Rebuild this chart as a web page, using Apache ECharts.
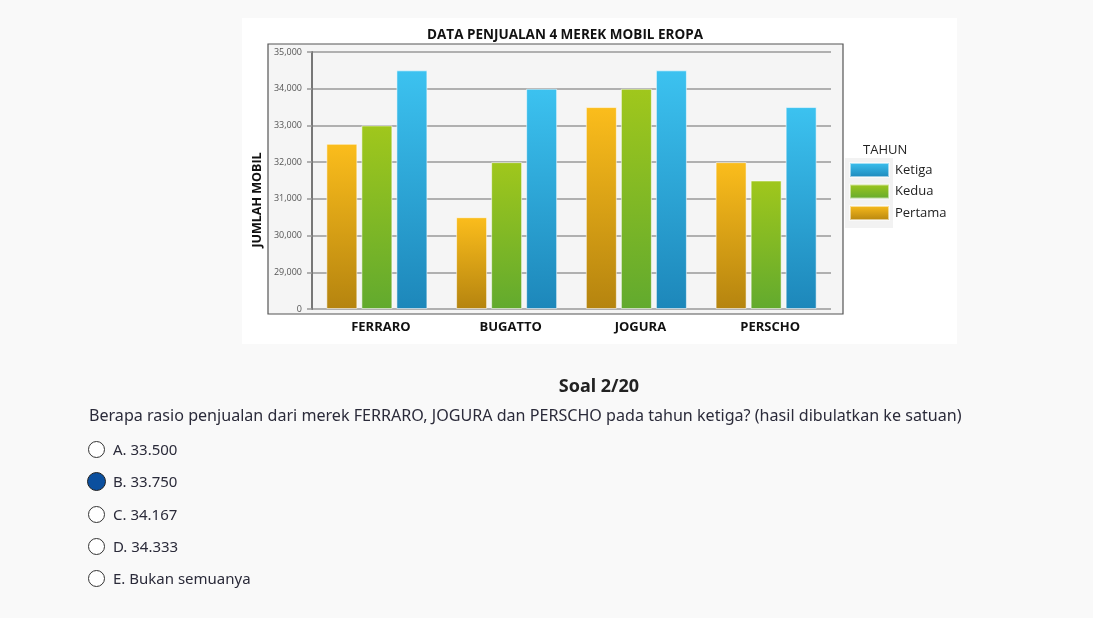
<!DOCTYPE html>
<html>
<head>
<meta charset="utf-8">
<script src="https://cdn.jsdelivr.net/npm/echarts@6/dist/echarts.min.js"></script>
<style>
  html, body { margin:0; padding:0; background:#f9f9f9; width:1093px; height:618px; overflow:hidden; }
  #chart { position:absolute; left:0; top:0; width:1093px; height:618px; }
  .quiz { position:absolute; font-family:"Noto Sans", "Open Sans", sans-serif; color:#2b2b3a; white-space:nowrap; }
  .soal { left:0; width:1198px; top:373px; text-align:center; font-size:18px; font-weight:bold; color:#222; }
  .q { left:89px; top:404px; font-size:16.1px; }
  .opt { left:88px; font-size:15px; display:flex; align-items:center; }
  .opt .c { width:17px; height:17px; border:1.5px solid #333; border-radius:50%; margin-right:8px; box-sizing:border-box; background:#fff; }
  .opt .c.sel { width:19px; height:19px; background:#0b4f9e; border:1.5px solid #222; margin-left:-1px; margin-right:7px; }
</style>
</head>
<body>
<div id="chart"></div>
<div class="quiz soal">Soal 2/20</div>
<div class="quiz q">Berapa rasio penjualan dari merek FERRARO, JOGURA dan PERSCHO pada tahun ketiga? (hasil dibulatkan ke satuan)</div>
<div class="quiz opt" style="top:439px"><span class="c"></span>A. 33.500</div>
<div class="quiz opt" style="top:471px"><span class="c sel"></span>B. 33.750</div>
<div class="quiz opt" style="top:504px"><span class="c"></span>C. 34.167</div>
<div class="quiz opt" style="top:536px"><span class="c"></span>D. 34.333</div>
<div class="quiz opt" style="top:568px"><span class="c"></span>E. Bukan semuanya</div>
<script>
const chartTitle = 'DATA PENJUALAN 4 MEREK MOBIL EROPA';
const yAxisTitle = 'JUMLAH MOBIL';
const legendTitle = 'TAHUN';
const categories = ['FERRARO', 'BUGATTO', 'JOGURA', 'PERSCHO'];
const pertama = [32500, 30500, 33500, 32000];
const kedua   = [33000, 32000, 34000, 31500];
const ketiga  = [34500, 34000, 34500, 33500];
const axisBreakBase = 28000; // shown as "0" on the broken axis
const yMax = 35000;
const yStep = 1000;

const grad = (top, bottom) => new echarts.graphic.LinearGradient(0, 0, 0, 1, [
  { offset: 0, color: top }, { offset: 1, color: bottom }
]);

const chart = echarts.init(document.getElementById('chart'));
const font = '"Open Sans", "Noto Sans", sans-serif';
const barStyle = (c) => ({ color: c, borderColor: 'rgba(255,255,255,0.55)', borderWidth: 1 });

chart.setOption({
  animation: false,
  title: {
    text: chartTitle, left: 560, top: 23, textAlign: 'center',
    textStyle: { fontFamily: font, fontSize: 13.5, fontWeight: 'bold', color: '#111' }
  },
  graphic: [
    { type: 'rect', z: -10, shape: { x: 242, y: 18, width: 715, height: 326 }, style: { fill: '#ffffff' } },
    { type: 'rect', z: -9, shape: { x: 268, y: 44, width: 575, height: 270 }, style: { fill: '#f5f5f5', stroke: '#555', lineWidth: 1.2 } },
    { type: 'rect', z: -8, shape: { x: 845, y: 158, width: 48, height: 70 }, style: { fill: '#f2f2f2' } },
    { type: 'text', left: 863, top: 144, style: { text: legendTitle, font: '13px ' + font, fill: '#222' } },
    { type: 'text', x: 257, y: 200, rotation: Math.PI / 2, style: { text: yAxisTitle, font: 'bold 12.5px ' + font, fill: '#111', align: 'center', verticalAlign: 'middle' } }
  ],
  legend: {
    data: ['Ketiga', 'Kedua', 'Pertama'],
    orient: 'vertical', left: 849, top: 162, padding: 0,
    itemWidth: 39, itemHeight: 14, itemGap: 5.5,
    icon: 'rect',
    textStyle: { fontFamily: font, fontSize: 13, color: '#222', padding: [0, 0, 0, 1] }
  },
  grid: { left: 312, right: 262, top: 52, bottom: 309, containLabel: false },
  xAxis: {
    type: 'category', data: categories,
    axisLine: { show: false }, axisTick: { show: false },
    axisLabel: { margin: 12, fontFamily: font, fontSize: 13, fontWeight: 'bold', color: '#111', padding: [0, 0, 0, 8] }
  },
  yAxis: {
    type: 'value', min: axisBreakBase, max: yMax, interval: yStep, startValue: axisBreakBase,
    axisLine: { show: true, lineStyle: { color: '#777', width: 2 } },
    axisTick: { show: true, length: 5, lineStyle: { color: '#999', width: 1.5 } },
    splitLine: { lineStyle: { color: '#999', width: 1.5 } },
    axisLabel: {
      margin: 10, fontFamily: font, fontSize: 9, color: '#555',
      formatter: v => v === axisBreakBase ? '0' : v.toLocaleString('en-US')
    }
  },
  series: [
    { name: 'Pertama', type: 'bar', data: pertama, barWidth: 31, barGap: '13%', itemStyle: barStyle(grad('#fbbd1c', '#b5840f')) },
    { name: 'Kedua', type: 'bar', data: kedua, barWidth: 31, barGap: '13%', itemStyle: barStyle(grad('#a0c71c', '#62aa2e')) },
    { name: 'Ketiga', type: 'bar', data: ketiga, barWidth: 31, barGap: '13%', itemStyle: barStyle(grad('#3cc2f0', '#1d87ba')) }
  ]
});
</script>
</body>
</html>
